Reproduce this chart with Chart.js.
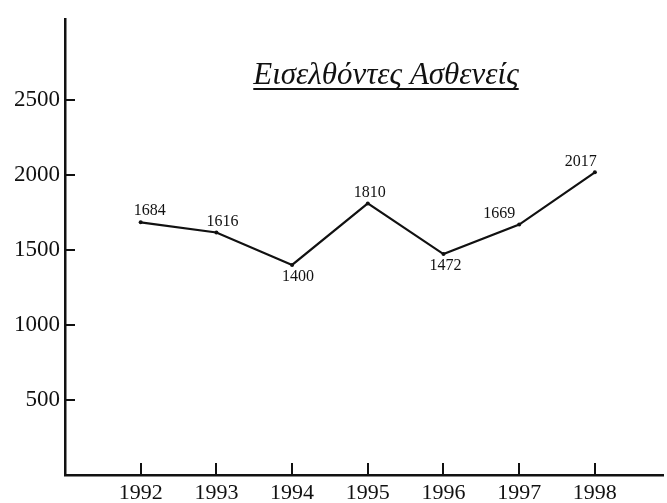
<!DOCTYPE html>
<html>
<head>
<meta charset="utf-8">
<script src="https://cdn.jsdelivr.net/npm/chart.js@4/dist/chart.umd.min.js"></script>
<style>
    html, body { margin: 0; padding: 0; background: #fff; }
    #wrap { width: 667px; height: 503px; }
</style>
</head>
<body>
<div id="wrap"><canvas id="grafAsthenon"></canvas></div>
<script>
// data
const titulo = 'Εισελθόντες Ασθενείς'
const anios = [1992, 1993, 1994, 1995, 1996, 1997, 1998]
const ingresos = [1684, 1616, 1400, 1810, 1472, 1669, 2017]
const ticksY = [500, 1000, 1500, 2000, 2500]

const fuente = "'Liberation Serif', 'DejaVu Serif', serif"

document.addEventListener('DOMContentLoaded',()=>{

    // short tick marks drawn inside the plot, like the original
    let marcasInternas = {
        id: 'marcasInternas',
        afterDraw(chart) {
            let ctx = chart.ctx
            let x = chart.scales.x
            let y = chart.scales.y
            ctx.save()
            ctx.strokeStyle = '#111'
            ctx.lineWidth = 2
            ctx.beginPath()
            for (let v of ticksY) {
                let py = Math.round(y.getPixelForValue(v))
                ctx.moveTo(x.left, py)
                ctx.lineTo(x.left + 10, py)
            }
            for (let a of anios) {
                let px = Math.round(x.getPixelForValue(a))
                ctx.moveTo(px, y.bottom)
                ctx.lineTo(px, y.bottom - 12)
            }
            ctx.stroke()
            ctx.restore()
        }
    }

    // value printed next to every point
    let etiquetas = {
        id: 'etiquetas',
        afterDatasetsDraw(chart, args, opts) {
            let ctx = chart.ctx
            let meta = chart.getDatasetMeta(0)
            ctx.save()
            ctx.font = '16px ' + fuente
            ctx.fillStyle = '#111'
            ctx.textAlign = 'center'
            meta.data.forEach((p, i) => {
                let abajo = opts.lado[i] === 'below'
                ctx.textBaseline = abajo ? 'top' : 'bottom'
                ctx.fillText(String(ingresos[i]), p.x + opts.dx[i], abajo ? p.y + 4 : p.y - 3)
            })
            ctx.restore()
        }
    }

    // underlined italic title inside the plot area
    let tituloInterno = {
        id: 'tituloInterno',
        afterDraw(chart) {
            let ctx = chart.ctx
            ctx.save()
            ctx.font = 'italic 31px ' + fuente
            ctx.fillStyle = '#111'
            ctx.textAlign = 'center'
            ctx.textBaseline = 'alphabetic'
            let cx = 386, by = 84
            ctx.fillText(titulo, cx, by)
            let w = ctx.measureText(titulo).width
            ctx.strokeStyle = '#111'
            ctx.lineWidth = 2
            ctx.beginPath()
            ctx.moveTo(cx - w / 2, by + 5)
            ctx.lineTo(cx + w / 2, by + 5)
            ctx.stroke()
            ctx.restore()
        }
    }

    let canvas = document.getElementById('grafAsthenon')

    new Chart(canvas, {
        type: 'line',
        data: {
            datasets: [
                {
                    data: anios.map((a, i) => ({ x: a, y: ingresos[i] })),
                    borderColor: '#111',
                    borderWidth: 2.2,
                    pointRadius: 2,
                    pointBackgroundColor: '#111',
                    pointBorderWidth: 0,
                    tension: 0
                }
            ]
        },
        options: {
            responsive: true,
            maintainAspectRatio: false,
            animation: false,
            layout: { padding: { top: 12, right: 0, left: 0, bottom: 0 } },
            plugins: {
                legend: { display: false },
                tooltip: { enabled: false },
                etiquetas: {
                    lado: ['above', 'above', 'below', 'above', 'below', 'above', 'above'],
                    dx: [9, 6, 6, 2, 2, -20, -14]
                }
            },
            scales: {
                x: {
                    type: 'linear',
                    min: 1991,
                    max: 1998.9,
                    afterBuildTicks: s => { s.ticks = anios.map(a => ({ value: a })) },
                    afterFit: s => { s.height = 28 },
                    grid: { display: false, drawTicks: false },
                    border: { display: true, color: '#111', width: 2.5 },
                    ticks: {
                        color: '#111',
                        padding: 5,
                        maxRotation: 0,
                        font: { family: fuente, size: 22 },
                        callback: v => String(v)
                    }
                },
                y: {
                    min: 0,
                    max: 3040,
                    afterBuildTicks: s => { s.ticks = ticksY.map(v => ({ value: v })) },
                    afterFit: s => { s.width = 65 },
                    grid: { display: false, drawTicks: false },
                    border: { display: true, color: '#111', width: 2.5 },
                    ticks: {
                        color: '#111',
                        padding: 5,
                        font: { family: fuente, size: 23 },
                        callback: v => String(v)
                    }
                }
            }
        },
        plugins: [marcasInternas, etiquetas, tituloInterno]
    })
})
</script>
</body>
</html>
